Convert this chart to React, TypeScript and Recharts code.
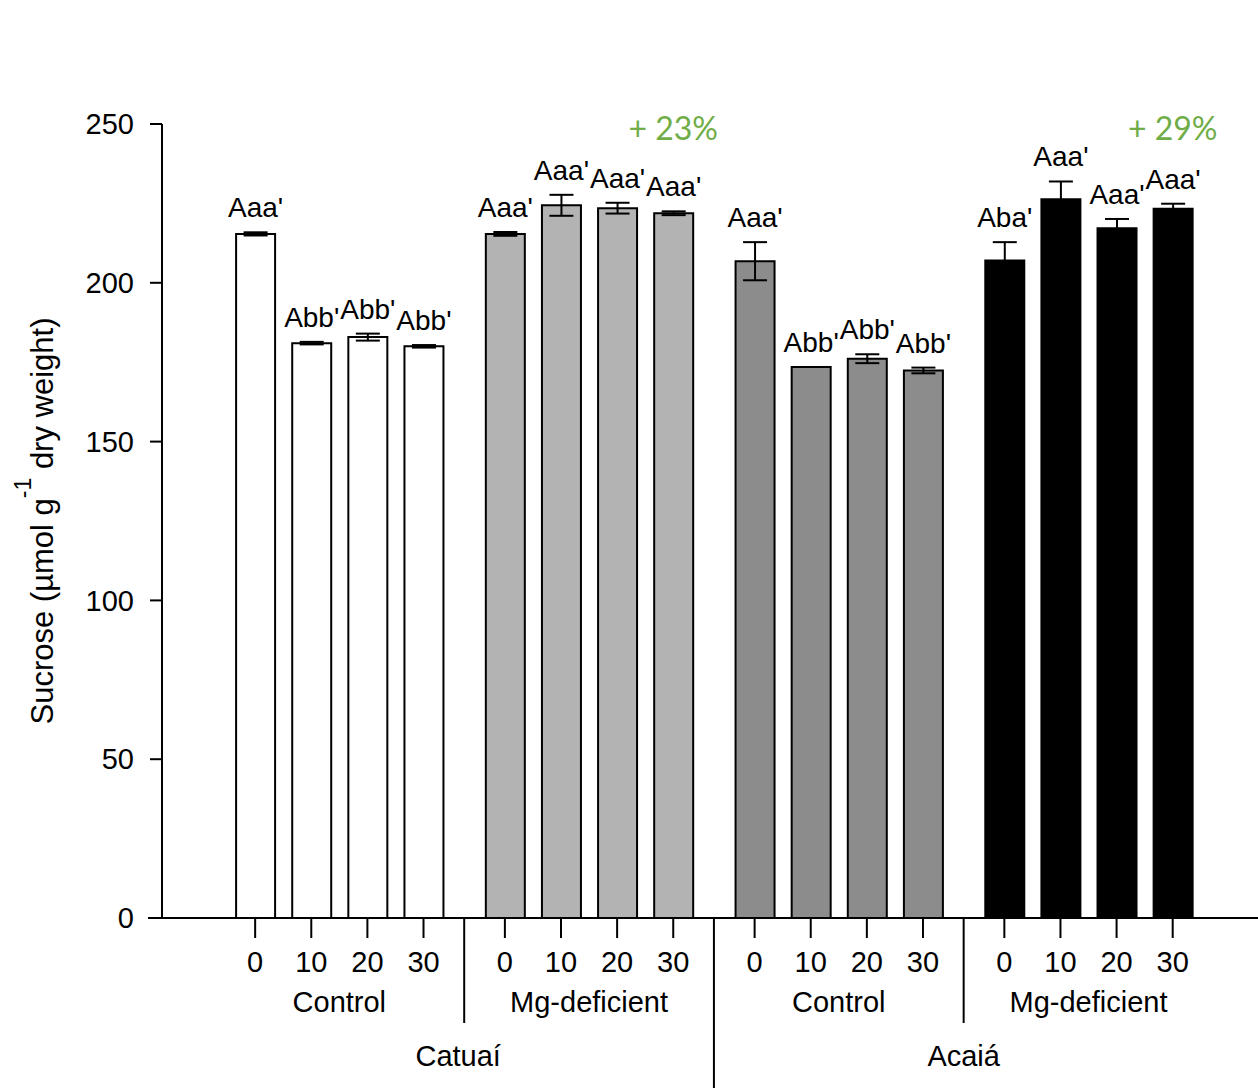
import React from "react";
import {
  BarChart,
  Bar,
  XAxis,
  YAxis,
  ErrorBar,
  Cell,
  LabelList,
  ReferenceDot,
  ReferenceLine,
} from "recharts";

const FONT = "'Liberation Sans', Arial, sans-serif";
const GREEN = "#70AD47";
const FILLS = ["#ffffff", "#b3b3b3", "#8c8c8c", "#000000"];

// sampling days and the grouping rows under the x axis
const days = ["0", "10", "20", "30"];
const treatments = ["Control", "Mg-deficient", "Control", "Mg-deficient"];
const cultivars = ["Catuaí", "Acaiá"];

// sucrose, µmol g-1 dry weight (mean ± SE)
const catuaiControl = [215.4, 181.0, 182.9, 180.0];
const catuaiControlErr = [0.5, 0.4, 1.1, 0.4];
const catuaiMg = [215.4, 224.4, 223.5, 221.9];
const catuaiMgErr = [0.6, 3.3, 1.7, 0.6];
const acaiaControl = [206.8, 173.5, 176.1, 172.4];
const acaiaControlErr = [6.0, 0, 1.4, 0.9];
const acaiaMg = [207.0, 226.3, 217.2, 223.3];
const acaiaMgErr = [5.8, 5.6, 2.9, 1.6];

// significance letters
const catuaiControlLetters = ["Aaa'", "Abb'", "Abb'", "Abb'"];
const catuaiMgLetters = ["Aaa'", "Aaa'", "Aaa'", "Aaa'"];
const acaiaControlLetters = ["Aaa'", "Abb'", "Abb'", "Abb'"];
const acaiaMgLetters = ["Aba'", "Aaa'", "Aaa'", "Aaa'"];

// increase under Mg deficiency, per cultivar
const mgGains = ["+ 23%", "+ 29%"];

// x layout in bar slots: groups of four with a wider gap between groups
const GROUP_STEP = 4.45;
const X_MIN = -1.66;
const X_MAX = 3 * GROUP_STEP + 3 + 1.52;

const groups = [
  { values: catuaiControl, errors: catuaiControlErr, letters: catuaiControlLetters },
  { values: catuaiMg, errors: catuaiMgErr, letters: catuaiMgLetters },
  { values: acaiaControl, errors: acaiaControlErr, letters: acaiaControlLetters },
  { values: acaiaMg, errors: acaiaMgErr, letters: acaiaMgLetters },
];

const rows = groups.flatMap((g, gi) =>
  g.values.map((v, i) => ({
    pos: gi * GROUP_STEP + i,
    day: days[i],
    value: v,
    err: g.errors[i],
    letter: g.letters[i],
    group: gi,
  }))
);

const groupCenters = groups.map((_, gi) => gi * GROUP_STEP + 1.5);
// dividers between groups; the outer ones also mark the cultivar centres
const dividers = [0, 1, 2].map((gi) => gi * GROUP_STEP + 3 + (GROUP_STEP - 3) / 2);

const same = (a: number, b: number) => Math.abs(a - b) < 1e-6;

const xTicks = [...rows.map((r) => r.pos), ...groupCenters, ...dividers];

function GroupedTick({ x, y, payload }: any) {
  const v = payload.value;
  const row = rows.find((r) => same(r.pos, v));
  if (row) {
    return (
      <g>
        <line x1={x} x2={x} y1={y} y2={y + 20} stroke="#000" strokeWidth={2} />
        <text x={x} y={y + 54} textAnchor="middle" fontSize={29} fontFamily={FONT} fill="#000">
          {row.day}
        </text>
      </g>
    );
  }
  const gi = groupCenters.findIndex((c) => same(c, v));
  if (gi >= 0) {
    return (
      <text x={x} y={y + 94} textAnchor="middle" fontSize={29} fontFamily={FONT} fill="#000">
        {treatments[gi]}
      </text>
    );
  }
  const di = dividers.findIndex((d) => same(d, v));
  if (di === 1) {
    return <line x1={x} x2={x} y1={y} y2={y + 170} stroke="#000" strokeWidth={2} />;
  }
  return (
    <g>
      <line x1={x} x2={x} y1={y} y2={y + 105} stroke="#000" strokeWidth={2} />
      <text
        x={di === 0 ? x - 6 : x}
        y={y + 148}
        textAnchor="middle"
        fontSize={29}
        fontFamily={FONT}
        fill="#000"
      >
        {cultivars[di === 0 ? 0 : 1]}
      </text>
    </g>
  );
}

function LetterLabel(props: any) {
  const { x, y, width, height, index } = props;
  const row = rows[index];
  const errPx = row.value ? (height * row.err) / row.value : 0;
  return (
    <text
      x={x + width / 2}
      y={y - errPx - 15}
      textAnchor="middle"
      fontSize={28}
      fontFamily={FONT}
      fill="#000"
    >
      {row.letter}
    </text>
  );
}

function YTitle({ viewBox }: any) {
  const cx = viewBox.x + 53;
  const cy = viewBox.y + viewBox.height / 2;
  return (
    <text
      x={cx}
      y={cy}
      transform={`rotate(-90, ${cx}, ${cy})`}
      textAnchor="middle"
      fontSize={31}
      fontFamily={FONT}
      fill="#000"
    >
      Sucrose (µmol g
      <tspan dy={-22} fontSize={23}>
        -1
      </tspan>
      <tspan dy={22}> dry weight)</tspan>
    </text>
  );
}

export default function App() {
  return (
    <div style={{ position: "absolute", left: 0, top: 0, background: "#fff" }}>
      <BarChart
        width={1258}
        height={1089}
        data={rows}
        margin={{ top: 124, right: 0, bottom: 0, left: 0 }}
      >
        <XAxis
          dataKey="pos"
          type="number"
          domain={[X_MIN, X_MAX]}
          ticks={xTicks}
          interval={0}
          tickSize={0}
          tickMargin={0}
          tickLine={false}
          tick={<GroupedTick />}
          height={171}
          axisLine={{ stroke: "#000", strokeWidth: 2 }}
        />
        <YAxis
          type="number"
          domain={[0, 250]}
          ticks={[0, 50, 100, 150, 200, 250]}
          width={162}
          tickSize={12}
          tickMargin={16}
          axisLine={{ stroke: "#000", strokeWidth: 2 }}
          tickLine={{ stroke: "#000", strokeWidth: 2 }}
          tick={{ fontSize: 29, fill: "#000", fontFamily: FONT }}
          label={{ content: YTitle }}
        />
        <ReferenceLine
          segment={[
            { x: -1.91, y: 0 },
            { x: X_MAX, y: 0 },
          ]}
          ifOverflow="visible"
          stroke="#000"
          strokeWidth={2}
        />
        <Bar
          dataKey="value"
          barSize={39}
          stroke="#000"
          strokeWidth={2}
          isAnimationActive={false}
        >
          {rows.map((r, i) => (
            <Cell key={i} fill={FILLS[r.group]} />
          ))}
          <ErrorBar
            dataKey="err"
            width={12}
            stroke="#000"
            strokeWidth={2}
            isAnimationActive={false}
          />
          <LabelList dataKey="letter" content={<LetterLabel />} />
        </Bar>
        {mgGains.map((g, k) => (
          <ReferenceDot
            key={g}
            x={(2 * k + 1) * GROUP_STEP + 3}
            y={243.5}
            r={0}
            stroke="none"
            label={{
              value: g,
              position: "top",
              offset: 5,
              fill: GREEN,
              fontSize: 32,
              fontFamily: "Lato, 'Open Sans', sans-serif",
            }}
          />
        ))}
      </BarChart>
    </div>
  );
}
